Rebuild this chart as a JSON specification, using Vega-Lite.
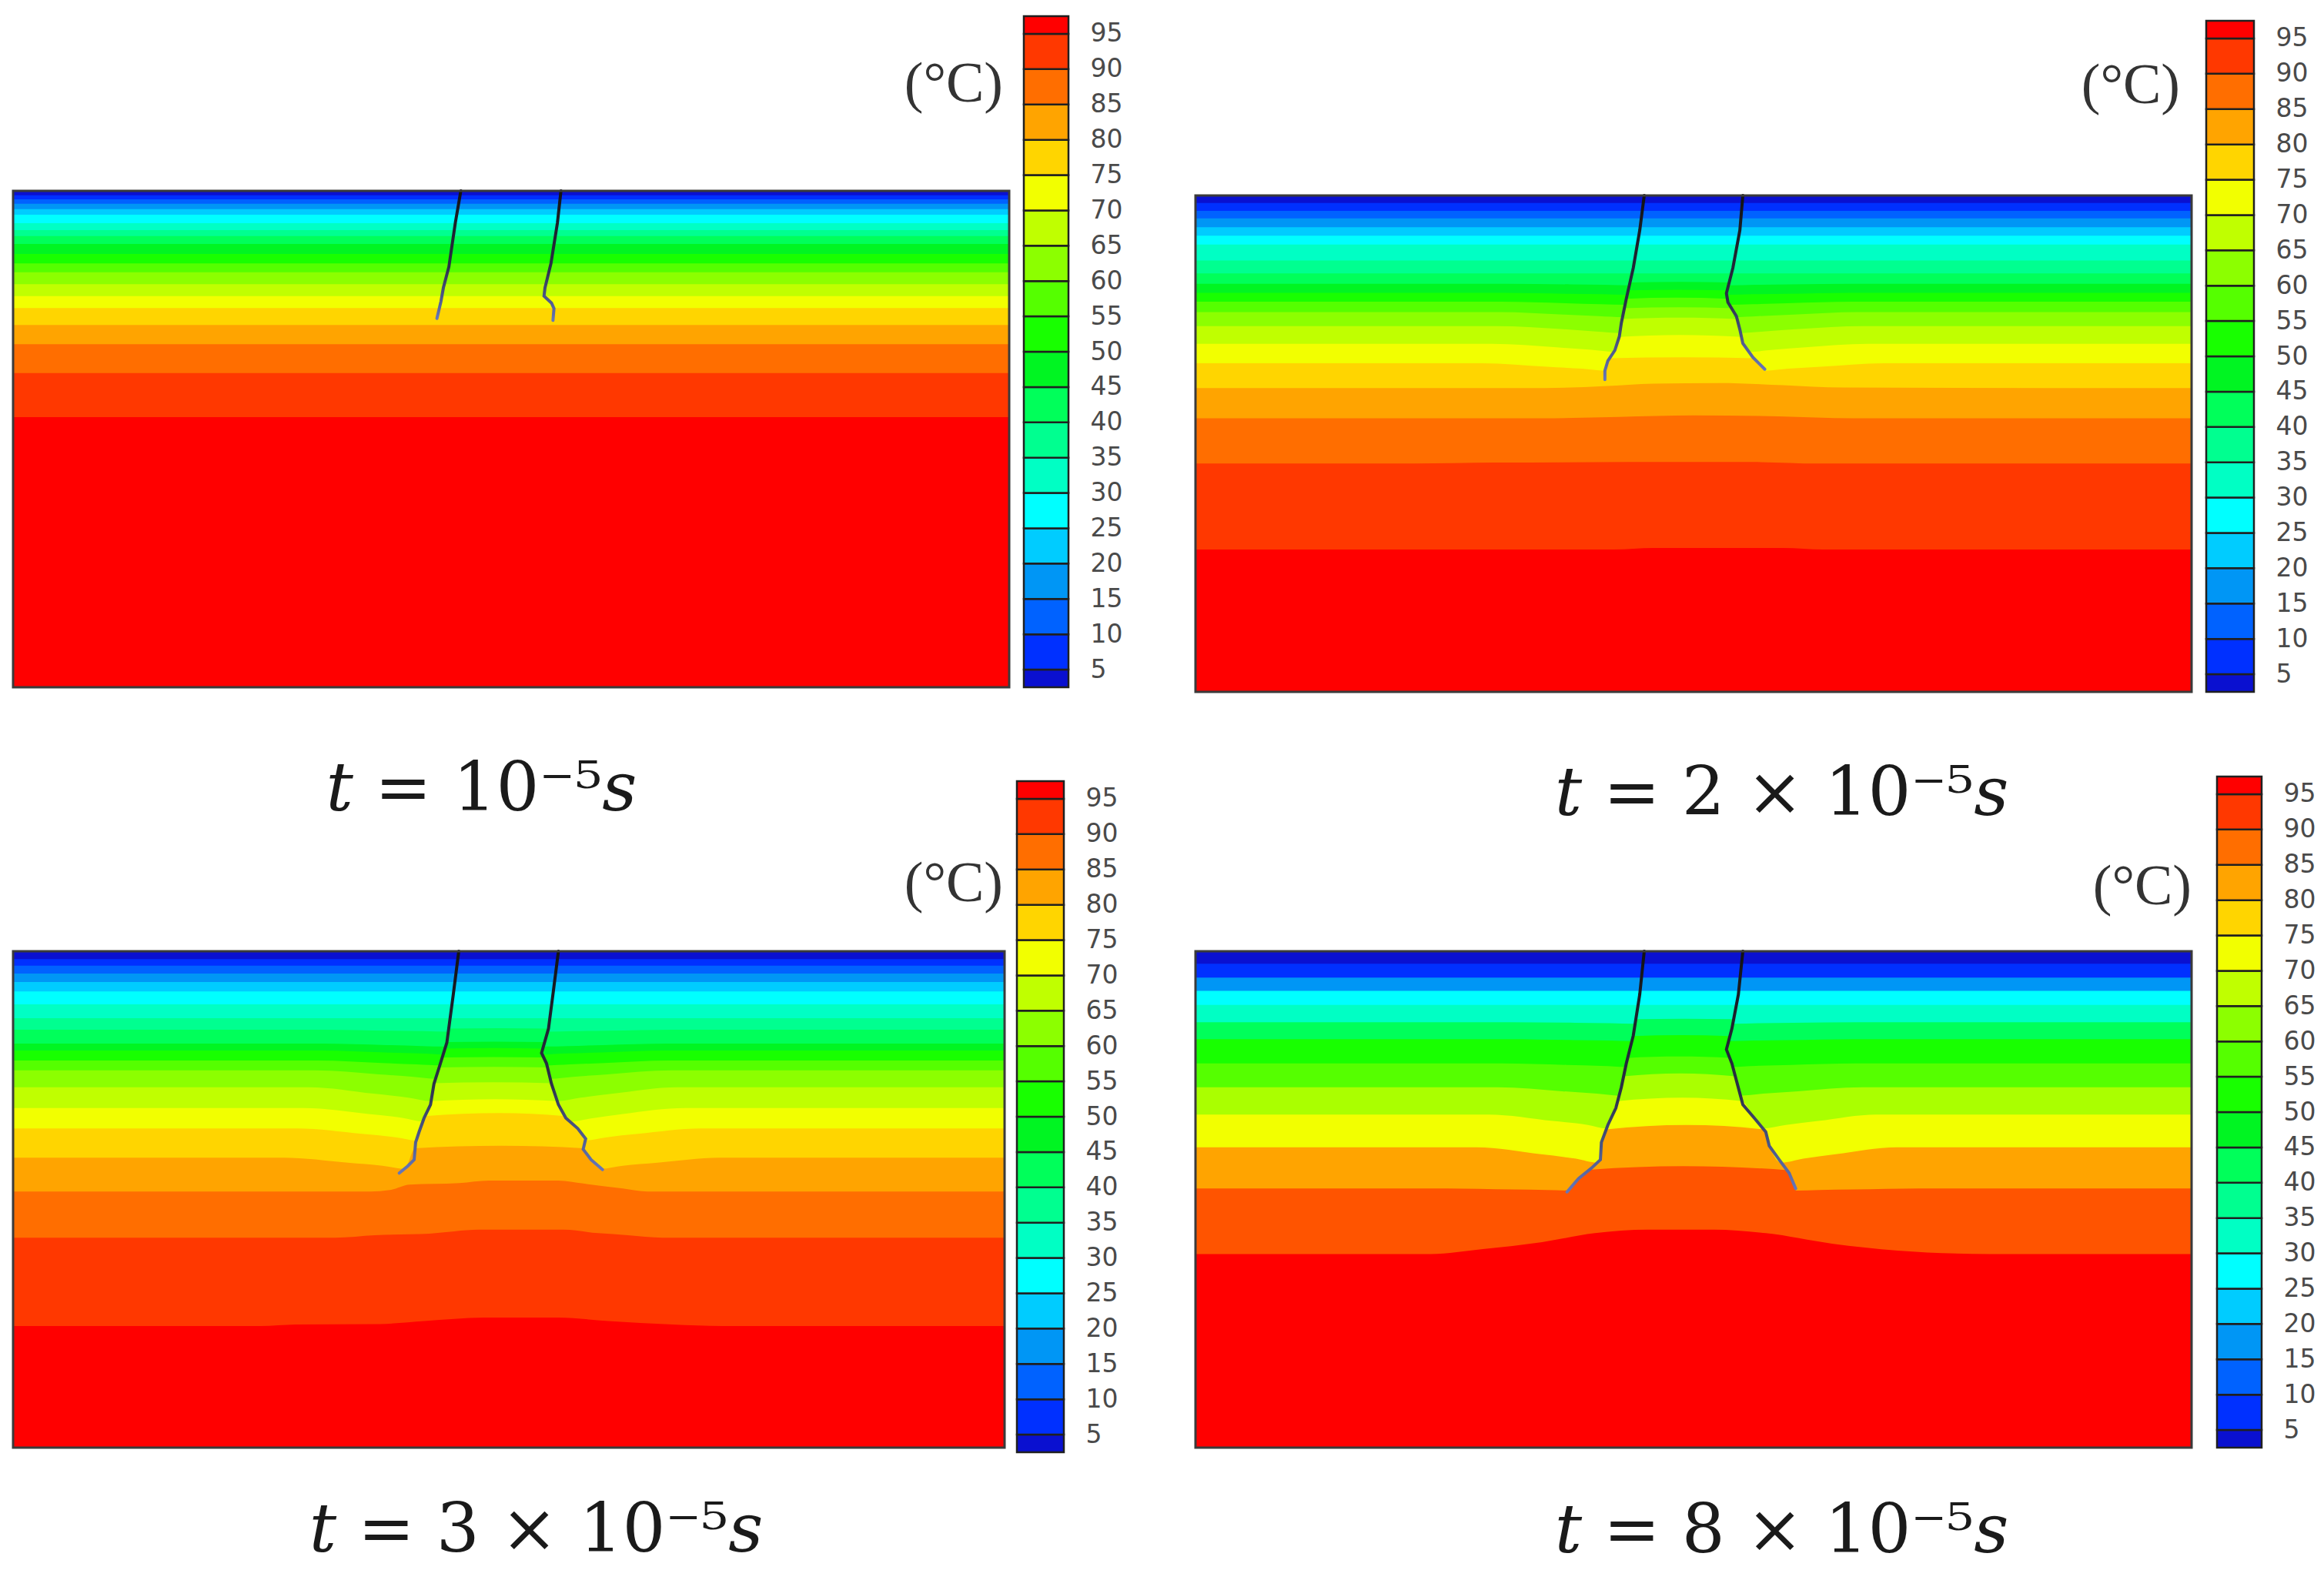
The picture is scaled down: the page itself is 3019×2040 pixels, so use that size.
{
"$schema": "https://vega.github.io/schema/vega-lite/v6.json",
"padding": {"left": 15, "top": 19, "right": 0, "bottom": 8},
"background": "white",
"config": {"view": {"stroke": null}},
"datasets": {
"cbar": [
{"k":0,"lo":2.5,"hi":5},{"k":5,"lo":5,"hi":10},{"k":10,"lo":10,"hi":15},{"k":15,"lo":15,"hi":20},{"k":20,"lo":20,"hi":25},{"k":25,"lo":25,"hi":30},{"k":30,"lo":30,"hi":35},{"k":35,"lo":35,"hi":40},{"k":40,"lo":40,"hi":45},{"k":45,"lo":45,"hi":50},{"k":50,"lo":50,"hi":55},{"k":55,"lo":55,"hi":60},{"k":60,"lo":60,"hi":65},{"k":65,"lo":65,"hi":70},{"k":70,"lo":70,"hi":75},{"k":75,"lo":75,"hi":80},{"k":80,"lo":80,"hi":85},{"k":85,"lo":85,"hi":90},{"k":90,"lo":90,"hi":95},{"k":95,"lo":95,"hi":97.5}
],
"unit": [{"u": "(°C)"}],
"cracks": [
{"p":1,"c":"L","x":89.9,"d":0},{"p":1,"c":"L","x":88.8,"d":6.4},{"p":1,"c":"L","x":87.5,"d":15.3},{"p":1,"c":"L","x":86.4,"d":19.5},{"p":1,"c":"L","x":85.9,"d":22.3},{"p":1,"c":"L","x":85.1,"d":25.7},
{"p":1,"c":"R","x":110.0,"d":0},{"p":1,"c":"R","x":109.3,"d":6.4},{"p":1,"c":"R","x":108.0,"d":14.6},{"p":1,"c":"R","x":106.8,"d":19.5},{"p":1,"c":"R","x":106.6,"d":21.2},{"p":1,"c":"R","x":108.1,"d":22.6},{"p":1,"c":"R","x":108.6,"d":23.7},{"p":1,"c":"R","x":108.4,"d":26.1},
{"p":2,"c":"L","x":90.1,"d":0},{"p":2,"c":"L","x":89.2,"d":7.0},{"p":2,"c":"L","x":87.9,"d":14.6},{"p":2,"c":"L","x":86.5,"d":20.8},{"p":2,"c":"L","x":85.5,"d":25.7},{"p":2,"c":"L","x":85.1,"d":28.4},{"p":2,"c":"L","x":84.2,"d":31.2},{"p":2,"c":"L","x":82.8,"d":33.3},{"p":2,"c":"L","x":82.2,"d":35.3},{"p":2,"c":"L","x":82.2,"d":37.1},
{"p":2,"c":"R","x":109.9,"d":0},{"p":2,"c":"R","x":109.3,"d":7.0},{"p":2,"c":"R","x":107.9,"d":14.6},{"p":2,"c":"R","x":106.6,"d":19.7},{"p":2,"c":"R","x":106.9,"d":21.5},{"p":2,"c":"R","x":108.6,"d":24.3},{"p":2,"c":"R","x":109.3,"d":27.0},{"p":2,"c":"R","x":109.9,"d":29.8},{"p":2,"c":"R","x":111.9,"d":32.6},{"p":2,"c":"R","x":114.3,"d":35.0},
{"p":3,"c":"L","x":89.9,"d":0},{"p":3,"c":"L","x":88.8,"d":8.7},{"p":3,"c":"L","x":87.5,"d":18.4},{"p":3,"c":"L","x":86.2,"d":22.6},{"p":3,"c":"L","x":84.9,"d":26.7},{"p":3,"c":"L","x":84.2,"d":30.9},{"p":3,"c":"L","x":82.9,"d":33.6},{"p":3,"c":"L","x":81.9,"d":36.4},{"p":3,"c":"L","x":81.2,"d":38.5},{"p":3,"c":"L","x":80.9,"d":42.0},{"p":3,"c":"L","x":79.6,"d":43.3},{"p":3,"c":"L","x":77.9,"d":44.7},
{"p":3,"c":"R","x":110.0,"d":0},{"p":3,"c":"R","x":108.9,"d":8.7},{"p":3,"c":"R","x":108.0,"d":15.6},{"p":3,"c":"R","x":106.6,"d":20.5},{"p":3,"c":"R","x":107.6,"d":22.6},{"p":3,"c":"R","x":108.6,"d":26.7},{"p":3,"c":"R","x":110.0,"d":30.9},{"p":3,"c":"R","x":111.5,"d":33.6},{"p":3,"c":"R","x":113.9,"d":35.7},{"p":3,"c":"R","x":115.5,"d":37.8},{"p":3,"c":"R","x":115.0,"d":39.9},{"p":3,"c":"R","x":116.6,"d":42.0},{"p":3,"c":"R","x":118.9,"d":44.0},
{"p":4,"c":"L","x":90.1,"d":0},{"p":4,"c":"L","x":89.2,"d":8.7},{"p":4,"c":"L","x":87.9,"d":17.0},{"p":4,"c":"L","x":86.5,"d":22.6},{"p":4,"c":"L","x":85.5,"d":27.4},{"p":4,"c":"L","x":84.4,"d":31.6},{"p":4,"c":"L","x":82.8,"d":35.0},{"p":4,"c":"L","x":81.5,"d":38.5},{"p":4,"c":"L","x":81.3,"d":42.0},{"p":4,"c":"L","x":79.5,"d":43.7},{"p":4,"c":"L","x":76.9,"d":45.8},{"p":4,"c":"L","x":74.6,"d":48.5},
{"p":4,"c":"R","x":109.9,"d":0},{"p":4,"c":"R","x":109.0,"d":8.7},{"p":4,"c":"R","x":107.7,"d":15.6},{"p":4,"c":"R","x":106.6,"d":19.8},{"p":4,"c":"R","x":107.7,"d":22.6},{"p":4,"c":"R","x":108.6,"d":26.0},{"p":4,"c":"R","x":109.9,"d":30.9},{"p":4,"c":"R","x":112.2,"d":33.6},{"p":4,"c":"R","x":114.5,"d":36.4},{"p":4,"c":"R","x":115.2,"d":39.2},{"p":4,"c":"R","x":117.2,"d":42.0},{"p":4,"c":"R","x":119.2,"d":44.7},{"p":4,"c":"R","x":120.5,"d":47.8}
],
"iso": [
{"p":1,"k":0,"x":0,"d":0},{"p":1,"k":0,"x":200,"d":0},
{"p":1,"k":5,"x":0,"d":0.9},{"p":1,"k":5,"x":200,"d":0.9},
{"p":1,"k":10,"x":0,"d":1.7},{"p":1,"k":10,"x":200,"d":1.7},
{"p":1,"k":15,"x":0,"d":2.6},{"p":1,"k":15,"x":200,"d":2.6},
{"p":1,"k":20,"x":0,"d":3.7},{"p":1,"k":20,"x":200,"d":3.7},
{"p":1,"k":25,"x":0,"d":4.8},{"p":1,"k":25,"x":200,"d":4.8},
{"p":1,"k":30,"x":0,"d":6.5},{"p":1,"k":30,"x":200,"d":6.5},
{"p":1,"k":35,"x":0,"d":7.9},{"p":1,"k":35,"x":200,"d":7.9},
{"p":1,"k":40,"x":0,"d":9.1},{"p":1,"k":40,"x":200,"d":9.1},
{"p":1,"k":45,"x":0,"d":10.7},{"p":1,"k":45,"x":200,"d":10.7},
{"p":1,"k":50,"x":0,"d":12.7},{"p":1,"k":50,"x":200,"d":12.7},
{"p":1,"k":55,"x":0,"d":14.6},{"p":1,"k":55,"x":200,"d":14.6},
{"p":1,"k":60,"x":0,"d":16.4},{"p":1,"k":60,"x":200,"d":16.4},
{"p":1,"k":65,"x":0,"d":18.8},{"p":1,"k":65,"x":200,"d":18.8},
{"p":1,"k":70,"x":0,"d":21.2},{"p":1,"k":70,"x":200,"d":21.2},
{"p":1,"k":75,"x":0,"d":23.6},{"p":1,"k":75,"x":200,"d":23.6},
{"p":1,"k":80,"x":0,"d":27.0},{"p":1,"k":80,"x":200,"d":27.0},
{"p":1,"k":85,"x":0,"d":30.9},{"p":1,"k":85,"x":200,"d":30.9},
{"p":1,"k":90,"x":0,"d":36.7},{"p":1,"k":90,"x":200,"d":36.7},
{"p":1,"k":95,"x":0,"d":45.6},{"p":1,"k":95,"x":200,"d":45.6},

{"p":2,"k":0,"x":0,"d":0},{"p":2,"k":0,"x":200,"d":0},
{"p":2,"k":5,"x":0,"d":1.5},{"p":2,"k":5,"x":200,"d":1.5},
{"p":2,"k":10,"x":0,"d":3.1},{"p":2,"k":10,"x":200,"d":3.1},
{"p":2,"k":15,"x":0,"d":4.6},{"p":2,"k":15,"x":200,"d":4.6},
{"p":2,"k":20,"x":0,"d":6.4},{"p":2,"k":20,"x":200,"d":6.4},
{"p":2,"k":25,"x":0,"d":8.1},{"p":2,"k":25,"x":200,"d":8.1},
{"p":2,"k":30,"x":0,"d":9.9},{"p":2,"k":30,"x":200,"d":9.9},
{"p":2,"k":35,"x":0,"d":13.1},{"p":2,"k":35,"x":200,"d":13.1},
{"p":2,"k":40,"x":0,"d":15.7},{"p":2,"k":40,"x":200,"d":15.7},
{"p":2,"k":45,"x":0,"d":17.8},{"p":2,"k":45,"x":62.2,"d":17.8},{"p":2,"k":45,"x":75.2,"d":17.9},{"p":2,"k":45,"x":82.2,"d":18.0},{"p":2,"k":45,"x":87.2,"d":18.1},{"p":2,"k":45,"x":87.3,"d":17.5},{"p":2,"k":45,"x":97.3,"d":17.4},{"p":2,"k":45,"x":107.2,"d":17.5},{"p":2,"k":45,"x":107.3,"d":18.1},{"p":2,"k":45,"x":112.3,"d":18.0},{"p":2,"k":45,"x":119.3,"d":17.9},{"p":2,"k":45,"x":132.3,"d":17.8},{"p":2,"k":45,"x":200,"d":17.8},
{"p":2,"k":50,"x":0,"d":19.6},{"p":2,"k":50,"x":61.8,"d":19.6},{"p":2,"k":50,"x":74.8,"d":19.8},{"p":2,"k":50,"x":81.8,"d":19.9},{"p":2,"k":50,"x":86.8,"d":20.0},{"p":2,"k":50,"x":86.9,"d":19.1},{"p":2,"k":50,"x":96.7,"d":19.0},{"p":2,"k":50,"x":106.5,"d":19.1},{"p":2,"k":50,"x":106.6,"d":20.0},{"p":2,"k":50,"x":111.6,"d":19.9},{"p":2,"k":50,"x":118.6,"d":19.8},{"p":2,"k":50,"x":131.6,"d":19.6},{"p":2,"k":50,"x":200,"d":19.6},
{"p":2,"k":55,"x":0,"d":21.4},{"p":2,"k":55,"x":61.3,"d":21.4},{"p":2,"k":55,"x":74.3,"d":21.7},{"p":2,"k":55,"x":81.3,"d":21.9},{"p":2,"k":55,"x":86.3,"d":22.0},{"p":2,"k":55,"x":86.4,"d":20.8},{"p":2,"k":55,"x":96.6,"d":20.6},{"p":2,"k":55,"x":106.8,"d":20.8},{"p":2,"k":55,"x":106.9,"d":22.0},{"p":2,"k":55,"x":111.9,"d":21.9},{"p":2,"k":55,"x":118.9,"d":21.7},{"p":2,"k":55,"x":131.9,"d":21.4},{"p":2,"k":55,"x":200,"d":21.4},
{"p":2,"k":60,"x":0,"d":23.5},{"p":2,"k":60,"x":60.9,"d":23.5},{"p":2,"k":60,"x":73.9,"d":24.0},{"p":2,"k":60,"x":80.9,"d":24.3},{"p":2,"k":60,"x":85.9,"d":24.5},{"p":2,"k":60,"x":86.0,"d":22.7},{"p":2,"k":60,"x":97.0,"d":22.5},{"p":2,"k":60,"x":108.0,"d":22.7},{"p":2,"k":60,"x":108.1,"d":24.5},{"p":2,"k":60,"x":113.1,"d":24.3},{"p":2,"k":60,"x":120.1,"d":24.0},{"p":2,"k":60,"x":133.1,"d":23.5},{"p":2,"k":60,"x":200,"d":23.5},
{"p":2,"k":65,"x":0,"d":26.3},{"p":2,"k":65,"x":60.4,"d":26.3},{"p":2,"k":65,"x":73.4,"d":26.9},{"p":2,"k":65,"x":80.4,"d":27.4},{"p":2,"k":65,"x":85.4,"d":27.7},{"p":2,"k":65,"x":85.5,"d":24.9},{"p":2,"k":65,"x":97.3,"d":24.6},{"p":2,"k":65,"x":108.6,"d":24.9},{"p":2,"k":65,"x":109.3,"d":27.7},{"p":2,"k":65,"x":114.1,"d":27.4},{"p":2,"k":65,"x":121.1,"d":26.9},{"p":2,"k":65,"x":134.1,"d":26.3},{"p":2,"k":65,"x":200,"d":26.3},
{"p":2,"k":70,"x":0,"d":29.9},{"p":2,"k":70,"x":59.5,"d":29.9},{"p":2,"k":70,"x":72.5,"d":30.6},{"p":2,"k":70,"x":79.5,"d":31.1},{"p":2,"k":70,"x":84.0,"d":31.5},{"p":2,"k":70,"x":85.1,"d":28.5},{"p":2,"k":70,"x":97.3,"d":28.1},{"p":2,"k":70,"x":109.6,"d":28.5},{"p":2,"k":70,"x":111.1,"d":31.5},{"p":2,"k":70,"x":116.0,"d":31.1},{"p":2,"k":70,"x":122.5,"d":30.6},{"p":2,"k":70,"x":135.0,"d":29.9},{"p":2,"k":70,"x":200,"d":29.9},
{"p":2,"k":75,"x":0,"d":33.8},{"p":2,"k":75,"x":57.6,"d":33.8},{"p":2,"k":75,"x":70.6,"d":34.5},{"p":2,"k":75,"x":77.6,"d":34.9},{"p":2,"k":75,"x":82.2,"d":35.3},{"p":2,"k":75,"x":83.1,"d":32.8},{"p":2,"k":75,"x":97.9,"d":32.6},{"p":2,"k":75,"x":112.1,"d":32.8},{"p":2,"k":75,"x":114.4,"d":35.3},{"p":2,"k":75,"x":119.0,"d":34.9},{"p":2,"k":75,"x":125.5,"d":34.5},{"p":2,"k":75,"x":138.2,"d":33.8},{"p":2,"k":75,"x":200,"d":33.8},
{"p":2,"k":80,"x":0,"d":38.8},{"p":2,"k":80,"x":70,"d":38.8},{"p":2,"k":80,"x":82,"d":38.4},{"p":2,"k":80,"x":92,"d":37.9},{"p":2,"k":80,"x":105,"d":37.8},{"p":2,"k":80,"x":118,"d":38.2},{"p":2,"k":80,"x":130,"d":38.7},{"p":2,"k":80,"x":200,"d":38.8},
{"p":2,"k":85,"x":0,"d":44.9},{"p":2,"k":85,"x":70,"d":44.9},{"p":2,"k":85,"x":85,"d":44.6},{"p":2,"k":85,"x":100,"d":44.3},{"p":2,"k":85,"x":117,"d":44.5},{"p":2,"k":85,"x":132,"d":44.9},{"p":2,"k":85,"x":200,"d":44.9},
{"p":2,"k":90,"x":0,"d":54.0},{"p":2,"k":90,"x":44,"d":54.0},{"p":2,"k":90,"x":60,"d":53.8},{"p":2,"k":90,"x":100,"d":53.7},{"p":2,"k":90,"x":112,"d":53.7},{"p":2,"k":90,"x":125,"d":54.0},{"p":2,"k":90,"x":200,"d":54.0},
{"p":2,"k":95,"x":0,"d":71.3},{"p":2,"k":95,"x":84,"d":71.3},{"p":2,"k":95,"x":92,"d":71.0},{"p":2,"k":95,"x":118,"d":71.0},{"p":2,"k":95,"x":126,"d":71.3},{"p":2,"k":95,"x":200,"d":71.3},

{"p":3,"k":0,"x":0,"d":0},{"p":3,"k":0,"x":200,"d":0},
{"p":3,"k":5,"x":0,"d":1.6},{"p":3,"k":5,"x":200,"d":1.6},
{"p":3,"k":10,"x":0,"d":2.9},{"p":3,"k":10,"x":200,"d":2.9},
{"p":3,"k":15,"x":0,"d":4.5},{"p":3,"k":15,"x":200,"d":4.5},
{"p":3,"k":20,"x":0,"d":6.2},{"p":3,"k":20,"x":200,"d":6.2},
{"p":3,"k":25,"x":0,"d":8.1},{"p":3,"k":25,"x":200,"d":8.1},
{"p":3,"k":30,"x":0,"d":10.7},{"p":3,"k":30,"x":200,"d":10.7},
{"p":3,"k":35,"x":0,"d":13.5},{"p":3,"k":35,"x":200,"d":13.5},
{"p":3,"k":40,"x":0,"d":15.8},{"p":3,"k":40,"x":62.8,"d":15.8},{"p":3,"k":40,"x":75.8,"d":16.0},{"p":3,"k":40,"x":82.8,"d":16.1},{"p":3,"k":40,"x":87.8,"d":16.2},{"p":3,"k":40,"x":87.9,"d":15.6},{"p":3,"k":40,"x":97.9,"d":15.5},{"p":3,"k":40,"x":107.9,"d":15.6},{"p":3,"k":40,"x":108.0,"d":16.2},{"p":3,"k":40,"x":113.0,"d":16.1},{"p":3,"k":40,"x":120.0,"d":16.0},{"p":3,"k":40,"x":133.0,"d":15.8},{"p":3,"k":40,"x":200,"d":15.8},
{"p":3,"k":45,"x":0,"d":18.6},{"p":3,"k":45,"x":62.4,"d":18.6},{"p":3,"k":45,"x":75.4,"d":18.9},{"p":3,"k":45,"x":82.4,"d":19.1},{"p":3,"k":45,"x":87.4,"d":19.2},{"p":3,"k":45,"x":87.5,"d":18.3},{"p":3,"k":45,"x":97.2,"d":18.2},{"p":3,"k":45,"x":106.9,"d":18.3},{"p":3,"k":45,"x":107.0,"d":19.2},{"p":3,"k":45,"x":112.0,"d":19.1},{"p":3,"k":45,"x":119.0,"d":18.9},{"p":3,"k":45,"x":132.0,"d":18.6},{"p":3,"k":45,"x":200,"d":18.6},
{"p":3,"k":50,"x":0,"d":20.0},{"p":3,"k":50,"x":62.0,"d":20.0},{"p":3,"k":50,"x":75.0,"d":20.4},{"p":3,"k":50,"x":82.0,"d":20.6},{"p":3,"k":50,"x":87.0,"d":20.8},{"p":3,"k":50,"x":87.1,"d":19.6},{"p":3,"k":50,"x":96.9,"d":19.5},{"p":3,"k":50,"x":106.6,"d":19.6},{"p":3,"k":50,"x":106.7,"d":20.8},{"p":3,"k":50,"x":111.7,"d":20.6},{"p":3,"k":50,"x":118.7,"d":20.4},{"p":3,"k":50,"x":131.7,"d":20.0},{"p":3,"k":50,"x":200,"d":20.0},
{"p":3,"k":55,"x":0,"d":22.0},{"p":3,"k":55,"x":61.4,"d":22.0},{"p":3,"k":55,"x":74.4,"d":22.5},{"p":3,"k":55,"x":81.4,"d":22.8},{"p":3,"k":55,"x":86.4,"d":23.0},{"p":3,"k":55,"x":86.5,"d":21.4},{"p":3,"k":55,"x":96.9,"d":21.3},{"p":3,"k":55,"x":107.2,"d":21.4},{"p":3,"k":55,"x":107.3,"d":23.0},{"p":3,"k":55,"x":112.3,"d":22.8},{"p":3,"k":55,"x":119.3,"d":22.5},{"p":3,"k":55,"x":132.3,"d":22.0},{"p":3,"k":55,"x":200,"d":22.0},
{"p":3,"k":60,"x":0,"d":24.0},{"p":3,"k":60,"x":60.8,"d":24.0},{"p":3,"k":60,"x":73.8,"d":24.8},{"p":3,"k":60,"x":80.8,"d":25.3},{"p":3,"k":60,"x":85.4,"d":25.7},{"p":3,"k":60,"x":85.9,"d":23.4},{"p":3,"k":60,"x":97.0,"d":23.3},{"p":3,"k":60,"x":107.8,"d":23.4},{"p":3,"k":60,"x":108.3,"d":25.7},{"p":3,"k":60,"x":112.9,"d":25.3},{"p":3,"k":60,"x":119.9,"d":24.8},{"p":3,"k":60,"x":132.9,"d":24.0},{"p":3,"k":60,"x":200,"d":24.0},
{"p":3,"k":65,"x":0,"d":27.4},{"p":3,"k":65,"x":59.7,"d":27.4},{"p":3,"k":65,"x":72.7,"d":28.7},{"p":3,"k":65,"x":79.7,"d":29.5},{"p":3,"k":65,"x":84.3,"d":30.2},{"p":3,"k":65,"x":84.9,"d":26.6},{"p":3,"k":65,"x":96.9,"d":26.4},{"p":3,"k":65,"x":108.6,"d":26.6},{"p":3,"k":65,"x":109.8,"d":30.2},{"p":3,"k":65,"x":114.5,"d":29.5},{"p":3,"k":65,"x":121.0,"d":28.7},{"p":3,"k":65,"x":134.0,"d":27.4},{"p":3,"k":65,"x":200,"d":27.4},
{"p":3,"k":70,"x":0,"d":31.6},{"p":3,"k":70,"x":58.7,"d":31.6},{"p":3,"k":70,"x":71.7,"d":32.8},{"p":3,"k":70,"x":78.7,"d":33.6},{"p":3,"k":70,"x":82.7,"d":34.3},{"p":3,"k":70,"x":84.3,"d":30.2},{"p":3,"k":70,"x":97.2,"d":29.8},{"p":3,"k":70,"x":109.8,"d":30.2},{"p":3,"k":70,"x":112.3,"d":34.3},{"p":3,"k":70,"x":116.6,"d":33.7},{"p":3,"k":70,"x":123.0,"d":32.8},{"p":3,"k":70,"x":135.6,"d":31.6},{"p":3,"k":70,"x":200,"d":31.6},
{"p":3,"k":75,"x":0,"d":35.7},{"p":3,"k":75,"x":57.4,"d":35.7},{"p":3,"k":75,"x":70.4,"d":36.8},{"p":3,"k":75,"x":77.4,"d":37.5},{"p":3,"k":75,"x":81.3,"d":38.1},{"p":3,"k":75,"x":83.1,"d":33.2},{"p":3,"k":75,"x":98.1,"d":32.6},{"p":3,"k":75,"x":111.3,"d":33.2},{"p":3,"k":75,"x":113.9,"d":35.7},{"p":3,"k":75,"x":115.4,"d":38.1},{"p":3,"k":75,"x":119.5,"d":37.5},{"p":3,"k":75,"x":126.0,"d":36.8},{"p":3,"k":75,"x":138.7,"d":35.7},{"p":3,"k":75,"x":200,"d":35.7},
{"p":3,"k":80,"x":0,"d":41.6},{"p":3,"k":80,"x":54.5,"d":41.6},{"p":3,"k":80,"x":67.5,"d":42.6},{"p":3,"k":80,"x":74.5,"d":43.2},{"p":3,"k":80,"x":79.0,"d":43.8},{"p":3,"k":80,"x":81.1,"d":39.7},{"p":3,"k":80,"x":98.5,"d":39.2},{"p":3,"k":80,"x":115.0,"d":39.7},{"p":3,"k":80,"x":116.6,"d":42.0},{"p":3,"k":80,"x":118.6,"d":43.8},{"p":3,"k":80,"x":123.0,"d":43.2},{"p":3,"k":80,"x":130.0,"d":42.6},{"p":3,"k":80,"x":142.5,"d":41.6},{"p":3,"k":80,"x":200,"d":41.6},
{"p":3,"k":85,"x":0,"d":48.4},{"p":3,"k":85,"x":72,"d":48.4},{"p":3,"k":85,"x":76,"d":48.1},{"p":3,"k":85,"x":80,"d":47.0},{"p":3,"k":85,"x":90,"d":46.7},{"p":3,"k":85,"x":96,"d":46.2},{"p":3,"k":85,"x":110,"d":46.2},{"p":3,"k":85,"x":115,"d":46.8},{"p":3,"k":85,"x":123,"d":47.8},{"p":3,"k":85,"x":128,"d":48.4},{"p":3,"k":85,"x":200,"d":48.4},
{"p":3,"k":90,"x":0,"d":57.7},{"p":3,"k":90,"x":65,"d":57.7},{"p":3,"k":90,"x":73,"d":57.2},{"p":3,"k":90,"x":84,"d":56.9},{"p":3,"k":90,"x":94,"d":56.1},{"p":3,"k":90,"x":111,"d":56.1},{"p":3,"k":90,"x":118,"d":56.8},{"p":3,"k":90,"x":124,"d":57.2},{"p":3,"k":90,"x":131,"d":57.7},{"p":3,"k":90,"x":200,"d":57.7},
{"p":3,"k":95,"x":0,"d":75.5},{"p":3,"k":95,"x":50,"d":75.5},{"p":3,"k":95,"x":57,"d":75.2},{"p":3,"k":95,"x":74,"d":75.1},{"p":3,"k":95,"x":83,"d":74.5},{"p":3,"k":95,"x":95,"d":73.8},{"p":3,"k":95,"x":110,"d":73.8},{"p":3,"k":95,"x":120,"d":74.5},{"p":3,"k":95,"x":133,"d":75.2},{"p":3,"k":95,"x":143,"d":75.5},{"p":3,"k":95,"x":200,"d":75.5},

{"p":4,"k":0,"x":0,"d":0},{"p":4,"k":0,"x":200,"d":0},
{"p":4,"k":5,"x":0,"d":2.5},{"p":4,"k":5,"x":200,"d":2.5},
{"p":4,"k":15,"x":0,"d":5.3},{"p":4,"k":15,"x":200,"d":5.3},
{"p":4,"k":25,"x":0,"d":8.0},{"p":4,"k":25,"x":200,"d":8.0},
{"p":4,"k":30,"x":0,"d":10.8},{"p":4,"k":30,"x":200,"d":10.8},
{"p":4,"k":40,"x":0,"d":14.3},{"p":4,"k":40,"x":63.2,"d":14.3},{"p":4,"k":40,"x":76.2,"d":14.4},{"p":4,"k":40,"x":83.2,"d":14.5},{"p":4,"k":40,"x":88.2,"d":14.6},{"p":4,"k":40,"x":88.3,"d":13.7},{"p":4,"k":40,"x":98.1,"d":13.6},{"p":4,"k":40,"x":107.9,"d":13.7},{"p":4,"k":40,"x":108.0,"d":14.6},{"p":4,"k":40,"x":113.0,"d":14.5},{"p":4,"k":40,"x":120.0,"d":14.4},{"p":4,"k":40,"x":133.0,"d":14.3},{"p":4,"k":40,"x":200,"d":14.3},
{"p":4,"k":50,"x":0,"d":17.7},{"p":4,"k":50,"x":62.8,"d":17.7},{"p":4,"k":50,"x":75.8,"d":17.9},{"p":4,"k":50,"x":82.8,"d":18.0},{"p":4,"k":50,"x":87.8,"d":18.1},{"p":4,"k":50,"x":87.9,"d":17.1},{"p":4,"k":50,"x":97.5,"d":16.9},{"p":4,"k":50,"x":107.1,"d":17.1},{"p":4,"k":50,"x":107.2,"d":18.1},{"p":4,"k":50,"x":112.2,"d":18.0},{"p":4,"k":50,"x":119.2,"d":17.9},{"p":4,"k":50,"x":132.2,"d":17.7},{"p":4,"k":50,"x":200,"d":17.7},
{"p":4,"k":55,"x":0,"d":22.6},{"p":4,"k":55,"x":61.5,"d":22.6},{"p":4,"k":55,"x":74.5,"d":22.9},{"p":4,"k":55,"x":81.5,"d":23.1},{"p":4,"k":55,"x":86.5,"d":23.3},{"p":4,"k":55,"x":86.6,"d":21.5},{"p":4,"k":55,"x":97.1,"d":21.2},{"p":4,"k":55,"x":107.5,"d":21.5},{"p":4,"k":55,"x":107.6,"d":23.3},{"p":4,"k":55,"x":112.6,"d":23.1},{"p":4,"k":55,"x":119.6,"d":22.9},{"p":4,"k":55,"x":132.6,"d":22.6},{"p":4,"k":55,"x":200,"d":22.6},
{"p":4,"k":62,"x":0,"d":27.4},{"p":4,"k":62,"x":60.6,"d":27.4},{"p":4,"k":62,"x":73.6,"d":28.2},{"p":4,"k":62,"x":80.6,"d":28.7},{"p":4,"k":62,"x":85.1,"d":29.1},{"p":4,"k":62,"x":86.0,"d":25.2},{"p":4,"k":62,"x":97.3,"d":24.6},{"p":4,"k":62,"x":108.4,"d":25.2},{"p":4,"k":62,"x":109.4,"d":29.1},{"p":4,"k":62,"x":114.0,"d":28.7},{"p":4,"k":62,"x":121.0,"d":28.2},{"p":4,"k":62,"x":133.9,"d":27.4},{"p":4,"k":62,"x":200,"d":27.4},
{"p":4,"k":70,"x":0,"d":32.9},{"p":4,"k":70,"x":58.8,"d":32.9},{"p":4,"k":70,"x":71.8,"d":34.2},{"p":4,"k":70,"x":78.8,"d":35.0},{"p":4,"k":70,"x":82.5,"d":35.7},{"p":4,"k":70,"x":84.8,"d":30.2},{"p":4,"k":70,"x":97.8,"d":29.5},{"p":4,"k":70,"x":109.7,"d":30.2},{"p":4,"k":70,"x":112.2,"d":33.6},{"p":4,"k":70,"x":113.9,"d":35.7},{"p":4,"k":70,"x":118.5,"d":35.0},{"p":4,"k":70,"x":125.0,"d":34.2},{"p":4,"k":70,"x":136.7,"d":32.9},{"p":4,"k":70,"x":200,"d":32.9},
{"p":4,"k":80,"x":0,"d":39.5},{"p":4,"k":80,"x":56.4,"d":39.5},{"p":4,"k":80,"x":69.4,"d":40.9},{"p":4,"k":80,"x":76.4,"d":41.8},{"p":4,"k":80,"x":80.7,"d":42.6},{"p":4,"k":80,"x":82.5,"d":35.9},{"p":4,"k":80,"x":98.6,"d":35.0},{"p":4,"k":80,"x":114.1,"d":35.9},{"p":4,"k":80,"x":115.2,"d":39.2},{"p":4,"k":80,"x":117.6,"d":42.6},{"p":4,"k":80,"x":122.0,"d":41.8},{"p":4,"k":80,"x":128.5,"d":40.9},{"p":4,"k":80,"x":140.8,"d":39.5},{"p":4,"k":80,"x":200,"d":39.5},
{"p":4,"k":87,"x":0,"d":47.8},{"p":4,"k":87,"x":50.5,"d":47.8},{"p":4,"k":87,"x":63.5,"d":48.0},{"p":4,"k":87,"x":70.5,"d":48.1},{"p":4,"k":87,"x":74.8,"d":48.2},{"p":4,"k":87,"x":76.9,"d":45.8},{"p":4,"k":87,"x":79.5,"d":44.0},{"p":4,"k":87,"x":97.9,"d":43.3},{"p":4,"k":87,"x":118.8,"d":44.1},{"p":4,"k":87,"x":119.8,"d":46.0},{"p":4,"k":87,"x":120.6,"d":48.2},{"p":4,"k":87,"x":125.2,"d":48.1},{"p":4,"k":87,"x":132.2,"d":48.0},{"p":4,"k":87,"x":145.2,"d":47.8},{"p":4,"k":87,"x":200,"d":47.8},
{"p":4,"k":95,"x":0,"d":61.0},{"p":4,"k":95,"x":47.2,"d":61.0},{"p":4,"k":95,"x":57.7,"d":60.0},{"p":4,"k":95,"x":69.6,"d":58.6},{"p":4,"k":95,"x":80.2,"d":56.8},{"p":4,"k":95,"x":90.8,"d":56.1},{"p":4,"k":95,"x":104,"d":56.1},{"p":4,"k":95,"x":114.5,"d":56.8},{"p":4,"k":95,"x":127.8,"d":58.9},{"p":4,"k":95,"x":141,"d":60.3},{"p":4,"k":95,"x":159.5,"d":61.0},{"p":4,"k":95,"x":200,"d":61.0}
]
},
"columns": 2,
"spacing": {"row": 116, "column": 165},
"bounds": "flush",
"concat": [
{
"width": 1371, "height": 872,
"title": {"text": "𝑡 = 10⁻⁵𝑠", "orient": "bottom", "anchor": "middle", "dx": -77, "offset": 158, "baseline": "alphabetic", "font": "DejaVu Serif", "fontSize": 88, "fontWeight": "normal", "color": "#1a1a1a"},
"layer": [
{"layer": [
{"data": {"name": "iso"}, "transform": [{"filter": "datum.p == 1"}], "mark": {"type": "area", "interpolate": "monotone"},
 "encoding": {"x": {"field": "x", "type": "quantitative", "scale": {"domain": [0, 200], "range": [0, 1294], "nice": false, "zero": false}, "axis": null},
  "y": {"field": "d", "type": "quantitative", "scale": {"domain": [0, 100], "range": [227, 872], "nice": false, "zero": false}, "axis": null},
  "y2": {"datum": 100},
  "color": {"field": "k", "type": "ordinal", "legend": null, "scale": {"domain": [0,5,10,15,20,25,30,35,40,45,50,55,60,62,65,70,75,80,85,87,90,95], "range": ["#0a10d0","#0030ff","#0062ff","#0096f5","#00ccff","#00ffff","#00ffc4","#00ff90","#00ff5a","#00f522","#18ff00","#55ff00","#8cff00","#aaff00","#c0ff00","#f2ff00","#ffd500","#ffa400","#ff6e00","#ff5400","#ff3800","#ff0000"]}}}},
{"data": {"name": "cracks"}, "transform": [{"filter": "datum.p == 1"}], "mark": {"type": "line", "strokeWidth": 4, "strokeCap": "round", "stroke": {"gradient": "linear", "x1": 0, "y1": 0, "x2": 0, "y2": 1, "stops": [{"offset": 0, "color": "#121212"}, {"offset": 0.6, "color": "#2a3048"}, {"offset": 1, "color": "#6676b8"}]}},
 "encoding": {"x": {"field": "x", "type": "quantitative", "axis": null}, "y": {"field": "d", "type": "quantitative", "axis": null}, "detail": {"field": "c"}, "order": {"field": "d", "type": "quantitative"}}},
{"data": {"values": [{"f": 1}]}, "mark": {"type": "rect", "filled": false, "stroke": "#3a3a3a", "strokeWidth": 3},
 "encoding": {"x": {"datum": 0, "type": "quantitative", "axis": null}, "x2": {"datum": 200}, "y": {"datum": 0, "type": "quantitative", "axis": null}, "y2": {"datum": 100}}},
{"data": {"name": "unit"}, "mark": {"type": "text", "align": "right", "baseline": "middle", "dx": -8, "font": "Liberation Serif", "fontSize": 74, "color": "#333333"},
 "encoding": {"x": {"datum": 200, "type": "quantitative", "axis": null}, "y": {"datum": -21.4, "type": "quantitative", "axis": null}, "text": {"field": "u"}}}
]},
{"data": {"name": "cbar"}, "mark": {"type": "rect", "stroke": "#202020", "strokeWidth": 2.5},
 "encoding": {"x": {"datum": 0, "type": "quantitative", "scale": {"domain": [0, 1], "range": [1313, 1371], "nice": false, "zero": false}, "axis": null}, "x2": {"datum": 1},
  "y": {"field": "lo", "type": "quantitative", "scale": {"domain": [2.5, 97.5], "nice": false, "zero": false}, "axis": {"orient": "right", "values": [5,10,15,20,25,30,35,40,45,50,55,60,65,70,75,80,85,90,95], "ticks": false, "domain": false, "grid": false, "title": null, "labelFont": "DejaVu Sans", "labelFontSize": 33, "labelColor": "#4a4a4a", "labelPadding": 28}},
  "y2": {"field": "hi"},
  "color": {"field": "k", "type": "ordinal", "legend": null, "scale": {"domain": [0,5,10,15,20,25,30,35,40,45,50,55,60,62,65,70,75,80,85,87,90,95], "range": ["#0a10d0","#0030ff","#0062ff","#0096f5","#00ccff","#00ffff","#00ffc4","#00ff90","#00ff5a","#00f522","#18ff00","#55ff00","#8cff00","#aaff00","#c0ff00","#f2ff00","#ffd500","#ffa400","#ff6e00","#ff5400","#ff3800","#ff0000"]}}}}
],
"resolve": {"scale": {"x": "independent", "y": "independent"}, "axis": {"x": "independent", "y": "independent"}}
},
{
"width": 1375, "height": 872,
"title": {"text": "𝑡 = 2 × 10⁻⁵𝑠", "orient": "bottom", "anchor": "middle", "dx": 74, "offset": 158, "baseline": "alphabetic", "font": "DejaVu Serif", "fontSize": 88, "fontWeight": "normal", "color": "#1a1a1a"},
"layer": [
{"layer": [
{"data": {"name": "iso"}, "transform": [{"filter": "datum.p == 2"}], "mark": {"type": "area", "interpolate": "monotone"},
 "encoding": {"x": {"field": "x", "type": "quantitative", "scale": {"domain": [0, 200], "range": [0, 1294], "nice": false, "zero": false}, "axis": null},
  "y": {"field": "d", "type": "quantitative", "scale": {"domain": [0, 100], "range": [233, 878], "nice": false, "zero": false}, "axis": null},
  "y2": {"datum": 100},
  "color": {"field": "k", "type": "ordinal", "legend": null, "scale": {"domain": [0,5,10,15,20,25,30,35,40,45,50,55,60,62,65,70,75,80,85,87,90,95], "range": ["#0a10d0","#0030ff","#0062ff","#0096f5","#00ccff","#00ffff","#00ffc4","#00ff90","#00ff5a","#00f522","#18ff00","#55ff00","#8cff00","#aaff00","#c0ff00","#f2ff00","#ffd500","#ffa400","#ff6e00","#ff5400","#ff3800","#ff0000"]}}}},
{"data": {"name": "cracks"}, "transform": [{"filter": "datum.p == 2"}], "mark": {"type": "line", "strokeWidth": 4, "strokeCap": "round", "stroke": {"gradient": "linear", "x1": 0, "y1": 0, "x2": 0, "y2": 1, "stops": [{"offset": 0, "color": "#121212"}, {"offset": 0.6, "color": "#2a3048"}, {"offset": 1, "color": "#6676b8"}]}},
 "encoding": {"x": {"field": "x", "type": "quantitative", "axis": null}, "y": {"field": "d", "type": "quantitative", "axis": null}, "detail": {"field": "c"}, "order": {"field": "d", "type": "quantitative"}}},
{"data": {"values": [{"f": 1}]}, "mark": {"type": "rect", "filled": false, "stroke": "#3a3a3a", "strokeWidth": 3},
 "encoding": {"x": {"datum": 0, "type": "quantitative", "axis": null}, "x2": {"datum": 200}, "y": {"datum": 0, "type": "quantitative", "axis": null}, "y2": {"datum": 100}}},
{"data": {"name": "unit"}, "mark": {"type": "text", "align": "right", "baseline": "middle", "dx": -15, "font": "Liberation Serif", "fontSize": 74, "color": "#333333"},
 "encoding": {"x": {"datum": 200, "type": "quantitative", "axis": null}, "y": {"datum": -22.0, "type": "quantitative", "axis": null}, "text": {"field": "u"}}}
]},
{"data": {"name": "cbar"}, "mark": {"type": "rect", "stroke": "#202020", "strokeWidth": 2.5},
 "encoding": {"x": {"datum": 0, "type": "quantitative", "scale": {"domain": [0, 1], "range": [1313, 1375], "nice": false, "zero": false}, "axis": null}, "x2": {"datum": 1},
  "y": {"field": "lo", "type": "quantitative", "scale": {"domain": [2.5, 97.5], "range": [878, 6], "nice": false, "zero": false}, "axis": {"orient": "right", "values": [5,10,15,20,25,30,35,40,45,50,55,60,65,70,75,80,85,90,95], "ticks": false, "domain": false, "grid": false, "title": null, "labelFont": "DejaVu Sans", "labelFontSize": 33, "labelColor": "#4a4a4a", "labelPadding": 28}},
  "y2": {"field": "hi"},
  "color": {"field": "k", "type": "ordinal", "legend": null, "scale": {"domain": [0,5,10,15,20,25,30,35,40,45,50,55,60,62,65,70,75,80,85,87,90,95], "range": ["#0a10d0","#0030ff","#0062ff","#0096f5","#00ccff","#00ffff","#00ffc4","#00ff90","#00ff5a","#00f522","#18ff00","#55ff00","#8cff00","#aaff00","#c0ff00","#f2ff00","#ffd500","#ffa400","#ff6e00","#ff5400","#ff3800","#ff0000"]}}}}
],
"resolve": {"scale": {"x": "independent", "y": "independent"}, "axis": {"x": "independent", "y": "independent"}}
},
{
"width": 1365, "height": 872,
"title": {"text": "𝑡 = 3 × 10⁻⁵𝑠", "orient": "bottom", "anchor": "middle", "dx": -3, "offset": 128, "baseline": "alphabetic", "font": "DejaVu Serif", "fontSize": 88, "fontWeight": "normal", "color": "#1a1a1a"},
"layer": [
{"layer": [
{"data": {"name": "iso"}, "transform": [{"filter": "datum.p == 3"}], "mark": {"type": "area", "interpolate": "monotone"},
 "encoding": {"x": {"field": "x", "type": "quantitative", "scale": {"domain": [0, 200], "range": [0, 1288], "nice": false, "zero": false}, "axis": null},
  "y": {"field": "d", "type": "quantitative", "scale": {"domain": [0, 100], "range": [227, 872], "nice": false, "zero": false}, "axis": null},
  "y2": {"datum": 100},
  "color": {"field": "k", "type": "ordinal", "legend": null, "scale": {"domain": [0,5,10,15,20,25,30,35,40,45,50,55,60,62,65,70,75,80,85,87,90,95], "range": ["#0a10d0","#0030ff","#0062ff","#0096f5","#00ccff","#00ffff","#00ffc4","#00ff90","#00ff5a","#00f522","#18ff00","#55ff00","#8cff00","#aaff00","#c0ff00","#f2ff00","#ffd500","#ffa400","#ff6e00","#ff5400","#ff3800","#ff0000"]}}}},
{"data": {"name": "cracks"}, "transform": [{"filter": "datum.p == 3"}], "mark": {"type": "line", "strokeWidth": 4, "strokeCap": "round", "stroke": {"gradient": "linear", "x1": 0, "y1": 0, "x2": 0, "y2": 1, "stops": [{"offset": 0, "color": "#121212"}, {"offset": 0.6, "color": "#2a3048"}, {"offset": 1, "color": "#6676b8"}]}},
 "encoding": {"x": {"field": "x", "type": "quantitative", "axis": null}, "y": {"field": "d", "type": "quantitative", "axis": null}, "detail": {"field": "c"}, "order": {"field": "d", "type": "quantitative"}}},
{"data": {"values": [{"f": 1}]}, "mark": {"type": "rect", "filled": false, "stroke": "#3a3a3a", "strokeWidth": 3},
 "encoding": {"x": {"datum": 0, "type": "quantitative", "axis": null}, "x2": {"datum": 200}, "y": {"datum": 0, "type": "quantitative", "axis": null}, "y2": {"datum": 100}}},
{"data": {"name": "unit"}, "mark": {"type": "text", "align": "right", "baseline": "middle", "dx": -2, "font": "Liberation Serif", "fontSize": 74, "color": "#333333"},
 "encoding": {"x": {"datum": 200, "type": "quantitative", "axis": null}, "y": {"datum": -13.5, "type": "quantitative", "axis": null}, "text": {"field": "u"}}}
]},
{"data": {"name": "cbar"}, "mark": {"type": "rect", "stroke": "#202020", "strokeWidth": 2.5},
 "encoding": {"x": {"datum": 0, "type": "quantitative", "scale": {"domain": [0, 1], "range": [1304, 1365], "nice": false, "zero": false}, "axis": null}, "x2": {"datum": 1},
  "y": {"field": "lo", "type": "quantitative", "scale": {"domain": [2.5, 97.5], "range": [878, 6], "nice": false, "zero": false}, "axis": {"orient": "right", "values": [5,10,15,20,25,30,35,40,45,50,55,60,65,70,75,80,85,90,95], "ticks": false, "domain": false, "grid": false, "title": null, "labelFont": "DejaVu Sans", "labelFontSize": 33, "labelColor": "#4a4a4a", "labelPadding": 28}},
  "y2": {"field": "hi"},
  "color": {"field": "k", "type": "ordinal", "legend": null, "scale": {"domain": [0,5,10,15,20,25,30,35,40,45,50,55,60,62,65,70,75,80,85,87,90,95], "range": ["#0a10d0","#0030ff","#0062ff","#0096f5","#00ccff","#00ffff","#00ffc4","#00ff90","#00ff5a","#00f522","#18ff00","#55ff00","#8cff00","#aaff00","#c0ff00","#f2ff00","#ffd500","#ffa400","#ff6e00","#ff5400","#ff3800","#ff0000"]}}}}
],
"resolve": {"scale": {"x": "independent", "y": "independent"}, "axis": {"x": "independent", "y": "independent"}}
},
{
"width": 1385, "height": 872,
"title": {"text": "𝑡 = 8 × 10⁻⁵𝑠", "orient": "bottom", "anchor": "middle", "dx": 69, "offset": 134, "baseline": "alphabetic", "font": "DejaVu Serif", "fontSize": 88, "fontWeight": "normal", "color": "#1a1a1a"},
"layer": [
{"layer": [
{"data": {"name": "iso"}, "transform": [{"filter": "datum.p == 4"}], "mark": {"type": "area", "interpolate": "monotone"},
 "encoding": {"x": {"field": "x", "type": "quantitative", "scale": {"domain": [0, 200], "range": [0, 1294], "nice": false, "zero": false}, "axis": null},
  "y": {"field": "d", "type": "quantitative", "scale": {"domain": [0, 100], "range": [227, 872], "nice": false, "zero": false}, "axis": null},
  "y2": {"datum": 100},
  "color": {"field": "k", "type": "ordinal", "legend": null, "scale": {"domain": [0,5,10,15,20,25,30,35,40,45,50,55,60,62,65,70,75,80,85,87,90,95], "range": ["#0a10d0","#0030ff","#0062ff","#0096f5","#00ccff","#00ffff","#00ffc4","#00ff90","#00ff5a","#00f522","#18ff00","#55ff00","#8cff00","#aaff00","#c0ff00","#f2ff00","#ffd500","#ffa400","#ff6e00","#ff5400","#ff3800","#ff0000"]}}}},
{"data": {"name": "cracks"}, "transform": [{"filter": "datum.p == 4"}], "mark": {"type": "line", "strokeWidth": 4, "strokeCap": "round", "stroke": {"gradient": "linear", "x1": 0, "y1": 0, "x2": 0, "y2": 1, "stops": [{"offset": 0, "color": "#121212"}, {"offset": 0.6, "color": "#2a3048"}, {"offset": 1, "color": "#6676b8"}]}},
 "encoding": {"x": {"field": "x", "type": "quantitative", "axis": null}, "y": {"field": "d", "type": "quantitative", "axis": null}, "detail": {"field": "c"}, "order": {"field": "d", "type": "quantitative"}}},
{"data": {"values": [{"f": 1}]}, "mark": {"type": "rect", "filled": false, "stroke": "#3a3a3a", "strokeWidth": 3},
 "encoding": {"x": {"datum": 0, "type": "quantitative", "axis": null}, "x2": {"datum": 200}, "y": {"datum": 0, "type": "quantitative", "axis": null}, "y2": {"datum": 100}}},
{"data": {"name": "unit"}, "mark": {"type": "text", "align": "right", "baseline": "middle", "dx": 0, "font": "Liberation Serif", "fontSize": 74, "color": "#333333"},
 "encoding": {"x": {"datum": 200, "type": "quantitative", "axis": null}, "y": {"datum": -12.9, "type": "quantitative", "axis": null}, "text": {"field": "u"}}}
]},
{"data": {"name": "cbar"}, "mark": {"type": "rect", "stroke": "#202020", "strokeWidth": 2.5},
 "encoding": {"x": {"datum": 0, "type": "quantitative", "scale": {"domain": [0, 1], "range": [1327, 1385], "nice": false, "zero": false}, "axis": null}, "x2": {"datum": 1},
  "y": {"field": "lo", "type": "quantitative", "scale": {"domain": [2.5, 97.5], "nice": false, "zero": false}, "axis": {"orient": "right", "values": [5,10,15,20,25,30,35,40,45,50,55,60,65,70,75,80,85,90,95], "ticks": false, "domain": false, "grid": false, "title": null, "labelFont": "DejaVu Sans", "labelFontSize": 33, "labelColor": "#4a4a4a", "labelPadding": 28}},
  "y2": {"field": "hi"},
  "color": {"field": "k", "type": "ordinal", "legend": null, "scale": {"domain": [0,5,10,15,20,25,30,35,40,45,50,55,60,62,65,70,75,80,85,87,90,95], "range": ["#0a10d0","#0030ff","#0062ff","#0096f5","#00ccff","#00ffff","#00ffc4","#00ff90","#00ff5a","#00f522","#18ff00","#55ff00","#8cff00","#aaff00","#c0ff00","#f2ff00","#ffd500","#ffa400","#ff6e00","#ff5400","#ff3800","#ff0000"]}}}}
],
"resolve": {"scale": {"x": "independent", "y": "independent"}, "axis": {"x": "independent", "y": "independent"}}
}
]
}
